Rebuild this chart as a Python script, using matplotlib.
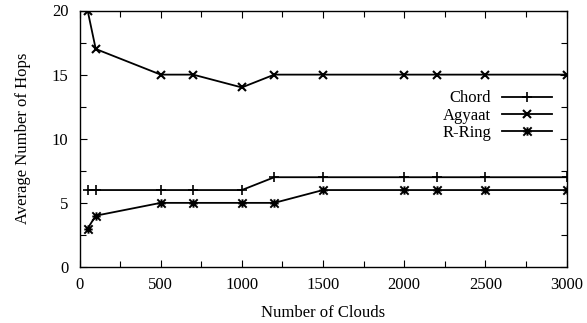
import matplotlib
matplotlib.use("Agg")
import matplotlib.pyplot as plt
from matplotlib.ticker import MultipleLocator
from matplotlib.path import Path

x = [50, 100, 500, 700, 1000, 1200, 1500, 2000, 2200, 2500, 3000]
chord = [6, 6, 6, 6, 6, 7, 7, 7, 7, 7, 7]
agyaat = [20, 17, 15, 15, 14, 15, 15, 15, 15, 15, 15]
rring = [3, 4, 5, 5, 5, 5, 6, 6, 6, 6, 6]

plt.rcParams['font.family'] = ['Liberation Serif', 'DejaVu Serif']
plt.rcParams['font.size'] = 12

# gnuplot-style asterisk: + overlaid with x
star = Path([(-1, 0), (1, 0), (0, -1), (0, 1), (-1, -1), (1, 1), (-1, 1), (1, -1)],
            [Path.MOVETO, Path.LINETO] * 4)

W, H = 587, 323
fig = plt.figure(figsize=(W / 100, H / 100), dpi=100)
L, R, T, B = 79.5, 566.5, 10.5, 267
ax = fig.add_axes([L / W, 1 - B / H, (R - L) / W, (B - T) / H])

lw = 1.3
ax.plot(x, chord, color='black', lw=lw, marker='+', ms=7, mew=1.2, label='Chord')
ax.plot(x, agyaat, color='black', lw=lw, marker='x', ms=6, mew=1.5, label='Agyaat')
ax.plot(x, rring, color='black', lw=lw, marker=star, ms=6, mew=1.4, label='R-Ring')

ax.set_xlim(0, 3000)
ax.set_ylim(0, 20)
ax.xaxis.set_major_locator(MultipleLocator(500))
ax.xaxis.set_minor_locator(MultipleLocator(250))
ax.yaxis.set_major_locator(MultipleLocator(5))
ax.yaxis.set_minor_locator(MultipleLocator(2.5))
ax.tick_params(which='both', direction='in', top=True, right=True, labelsize=12, width=0.8)
ax.tick_params(which='major', length=5)
ax.tick_params(which='minor', length=4)
ax.tick_params(axis='x', which='major', pad=7)
ax.tick_params(axis='y', which='major', pad=8)
for s in ax.spines.values():
    s.set_linewidth(1.0)

ax.set_xlabel('Number of Clouds', fontsize=12, labelpad=9)
ax.set_ylabel('Average Number of Hops', fontsize=12, labelpad=15)

leg = ax.legend(loc='upper right', bbox_to_anchor=((552 - L) / (R - L), (B - 90.5) / (B - T)),
                frameon=False, markerfirst=False, handlelength=3.0, handletextpad=0.65,
                labelspacing=0.08, fontsize=12, borderaxespad=0, borderpad=0)
for t in leg.get_texts():
    t.set_ha('right')

fig.savefig('out.png', dpi=100)
